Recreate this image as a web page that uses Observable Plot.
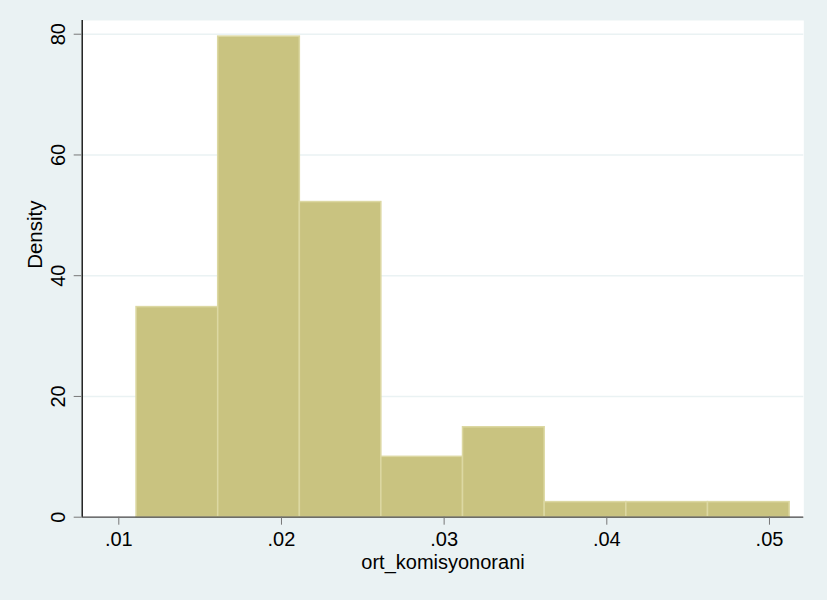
<!DOCTYPE html>
<html>
<head>
<meta charset="utf-8">
<script src="https://cdn.jsdelivr.net/npm/d3@7"></script>
<script src="https://cdn.jsdelivr.net/npm/@observablehq/plot@0.6"></script>
<style>
  html, body { margin: 0; padding: 0; background: #eaf2f3; }
</style>
</head>
<body>
<div id="chart"></div>
<script>
// Bin edges (ort_komisyonorani) and density per bin
const binStarts = [0.01109, 0.01611, 0.02113, 0.02614, 0.03116, 0.03618, 0.04120, 0.04622];
const binEnds   = [0.01611, 0.02113, 0.02614, 0.03116, 0.03618, 0.04120, 0.04622, 0.05124];
const densities = [34.8, 79.6, 52.2, 10.0, 14.9, 2.5, 2.5, 2.5];
const xTicks = [0.01, 0.02, 0.03, 0.04, 0.05];
const yTicks = [0, 20, 40, 60, 80];
const xTitle = "ort_komisyonorani";
const yTitle = "Density";

const bins = densities.map((d, i) => ({x1: binStarts[i], x2: binEnds[i], y: d}));
const xDomain = [0.00775, 0.05211];
const fmtX = d => d3.format(".2f")(d).replace(/^0/, "");

const chart = Plot.plot({
  width: 827,
  height: 600,
  marginLeft: 81.7,
  marginRight: 23.7,
  marginTop: 20,
  marginBottom: 83.3,
  style: {background: "#eaf2f3", fontFamily: "'Liberation Sans', Arial, sans-serif", fontSize: "20px", color: "black"},
  x: {domain: xDomain, label: null},
  y: {domain: [0, 82.27], label: null},
  marks: [
    Plot.frame({fill: "white", stroke: "none"}),
    Plot.gridY(yTicks.filter(d => d > 0), {stroke: "#eaf2f3", strokeOpacity: 1, strokeWidth: 1.6}),
    Plot.rectY(bins, {x1: "x1", x2: "x2", y: "y", fill: "#c9c380", stroke: "#dcd8a2", strokeWidth: 1.5, inset: 0}),
    Plot.ruleY([0], {stroke: "#444", strokeWidth: 1.2}),
    Plot.ruleX([xDomain[0]], {stroke: "black", strokeWidth: 1.3}),
    Plot.axisX({ticks: xTicks, tickFormat: fmtX, tickSize: 8, tickPadding: 7, stroke: "#777", fill: "black", fontSize: 20, label: null}),
    Plot.axisY({ticks: yTicks, tickSize: 8, text: null, stroke: "#777", label: null}),
    Plot.text(yTicks, {x: xDomain[0], y: d => d, text: d => String(d), rotate: -90, dx: -24, textAnchor: "middle", lineAnchor: "middle", fontSize: 20, fill: "black"}),
    Plot.text([xTitle], {frameAnchor: "bottom", dy: 52, fontSize: 20, fill: "black"}),
    Plot.text([yTitle], {frameAnchor: "left", dx: -47, rotate: -90, fontSize: 20.5, fill: "black"})
  ]
});
document.getElementById("chart").appendChild(chart);
</script>
</body>
</html>
